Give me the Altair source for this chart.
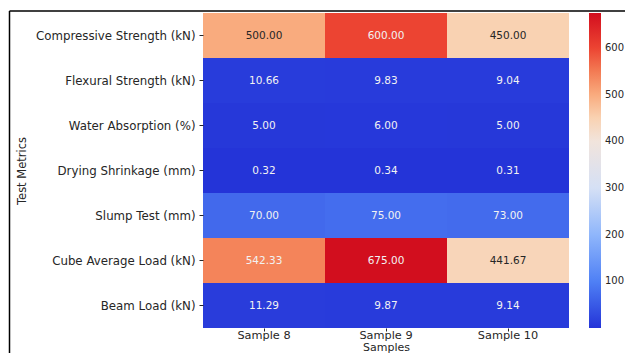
import altair as alt
import pandas as pd

metrics = ["Compressive Strength (kN)", "Flexural Strength (kN)", "Water Absorption (%)",
           "Drying Shrinkage (mm)", "Slump Test (mm)", "Cube Average Load (kN)", "Beam Load (kN)"]
samples = ["Sample 8", "Sample 9", "Sample 10"]
sample8 = [500.00, 10.66, 5.00, 0.32, 70.00, 542.33, 11.29]
sample9 = [600.00, 9.83, 6.00, 0.34, 75.00, 675.00, 9.87]
sample10 = [450.00, 9.04, 5.00, 0.31, 73.00, 441.67, 9.14]
legend_ticks = [100, 200, 300, 400, 500, 600]

rows = []
for s, vals in zip(samples, [sample8, sample9, sample10]):
    for m, v in zip(metrics, vals):
        rows.append({"Samples": s, "Test Metrics": m, "value": v})
df = pd.DataFrame(rows)

vmin = min(sample8 + sample9 + sample10)
vmax = max(sample8 + sample9 + sample10)

color_domain = [vmin, 100, 200, 300, 400, 450, 500, 542, 600, vmax]
color_range = ["#2434d8", "#4f80f5", "#8fb6fb", "#d5e0f5", "#f1e4dc", "#f9d2b2",
               "#f9ab7e", "#f4845a", "#ec4432", "#d20e1e"]

W, H = 366, 315
FONT = "DejaVu Sans"

base = alt.Chart(df).encode(
    x=alt.X("Samples:N", sort=samples, title="Samples",
            axis=alt.Axis(labelAngle=0, domain=False, tickSize=3, labelPadding=-2,
                          titleY=22, titleBaseline="alphabetic",
                          labelFontSize=11.3, titleFontSize=11,
                          labelFont=FONT, titleFont=FONT, titleFontWeight="normal",
                          labelColor="#262626", titleColor="#262626", tickColor="#262626")),
    y=alt.Y("Test Metrics:N", sort=metrics, title="Test Metrics",
            axis=alt.Axis(domain=False, tickSize=4, labelPadding=4, titlePadding=8,
                          labelFontSize=11.8, titleFontSize=11.5,
                          labelFont=FONT, titleFont=FONT, titleFontWeight="normal",
                          labelColor="#262626", titleColor="#262626", tickColor="#262626")),
)

heat = base.mark_rect().encode(
    color=alt.Color("value:Q",
                    scale=alt.Scale(domain=color_domain, range=color_range, interpolate="rgb"),
                    legend=alt.Legend(title=None, orient="none", legendX=386, legendY=0,
                                      direction="vertical", gradientLength=H,
                                      gradientThickness=12, gradientStrokeWidth=0,
                                      values=legend_ticks, labelOffset=4,
                                      labelFontSize=10, labelFont=FONT, labelColor="#262626",
                                      labelOverlap=False))
)

text = base.mark_text(font=FONT, fontSize=10.5).encode(
    text=alt.Text("value:Q", format=".2f"),
    color=alt.condition((alt.datum.value > 380) & (alt.datum.value < 520),
                        alt.value("#262626"), alt.value("#f2f2f2")),
)

frame_df = pd.DataFrame({"k": [0]})
left_line = alt.Chart(frame_df).mark_rule(color="black", strokeWidth=1.5).encode(
    x=alt.value(-193.5), y=alt.value(-2), y2=alt.value(H + 40))
top_line = alt.Chart(frame_df).mark_rule(color="black", strokeWidth=1.5).encode(
    x=alt.value(-193.5), x2=alt.value(W + 60), y=alt.value(-2))

chart = alt.layer(heat, text, left_line, top_line).properties(
    width=W, height=H,
    autosize=alt.AutoSizeParams(type="none"),
    padding={"left": 195, "top": 5, "right": 56, "bottom": 25},
).configure_view(stroke=None)

chart.save("out.html", embed_options={"renderer": "svg", "actions": False})
